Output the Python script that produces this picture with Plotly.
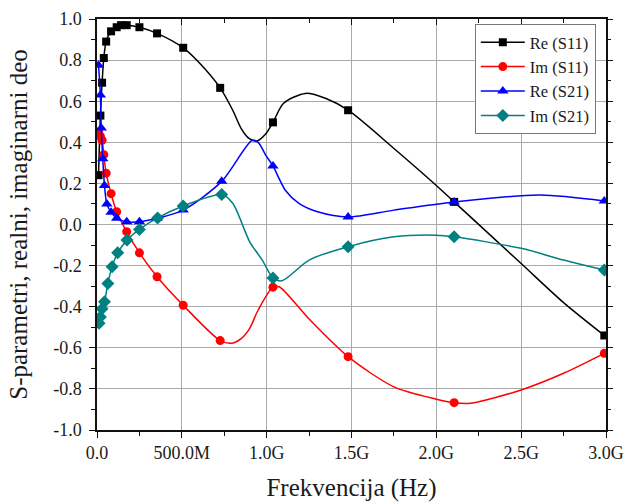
import plotly.graph_objects as go

# ---------------- data (frequency in GHz) ----------------
# Re(S11) – markers
re11_mx = [0.009, 0.02, 0.03, 0.04, 0.054, 0.083, 0.116, 0.142, 0.175, 0.25, 0.354, 0.508, 0.726, 1.037, 1.48, 2.105, 2.99]
re11_my = [0.24, 0.53, 0.69, 0.81, 0.89, 0.94, 0.96, 0.97, 0.97, 0.96, 0.93, 0.86, 0.665, 0.497, 0.556, 0.11, -0.54]
# Re(S11) – curve
re11_cx = [0.009, 0.02, 0.03, 0.04, 0.054, 0.083, 0.116, 0.142, 0.175, 0.25, 0.354, 0.508, 0.6, 0.726, 0.80, 0.85, 0.896, 0.94, 0.994, 1.037, 1.1, 1.229, 1.35, 1.48, 1.75, 2.0, 2.105, 2.5, 2.75, 2.99]
re11_cy = [0.24, 0.53, 0.69, 0.81, 0.89, 0.94, 0.96, 0.97, 0.97, 0.96, 0.93, 0.86, 0.79, 0.665, 0.556, 0.467, 0.419, 0.405, 0.44, 0.497, 0.59, 0.638, 0.613, 0.556, 0.37, 0.19, 0.11, -0.19, -0.38, -0.54]

# Im(S11)
im11_mx = [0.009, 0.02, 0.03, 0.04, 0.054, 0.083, 0.116, 0.175, 0.25, 0.354, 0.508, 0.726, 1.037, 1.48, 2.105, 2.99]
im11_my = [0.45, 0.43, 0.41, 0.34, 0.25, 0.15, 0.062, -0.035, -0.138, -0.254, -0.393, -0.565, -0.305, -0.643, -0.867, -0.627]
im11_cx = [0.009, 0.02, 0.03, 0.04, 0.054, 0.083, 0.116, 0.175, 0.25, 0.354, 0.508, 0.726, 0.788, 0.85, 0.9, 0.95, 1.037, 1.073, 1.25, 1.48, 1.75, 2.0, 2.105, 2.2, 2.5, 2.75, 2.99]
im11_cy = [0.45, 0.43, 0.41, 0.34, 0.25, 0.15, 0.062, -0.035, -0.138, -0.254, -0.393, -0.565, -0.578, -0.555, -0.505, -0.416, -0.305, -0.303, -0.46, -0.643, -0.79, -0.85, -0.867, -0.87, -0.805, -0.724, -0.627]

# Re(S21)
re21_mx = [0.009, 0.02, 0.025, 0.034, 0.044, 0.058, 0.083, 0.116, 0.175, 0.25, 0.354, 0.508, 0.735, 1.037, 1.48, 2.105, 2.99]
re21_my = [0.775, 0.63, 0.47, 0.32, 0.19, 0.10, 0.06, 0.03, 0.013, 0.013, 0.03, 0.07, 0.21, 0.285, 0.037, 0.11, 0.114]
re21_cx = [0.009, 0.02, 0.025, 0.034, 0.044, 0.058, 0.083, 0.116, 0.175, 0.25, 0.354, 0.508, 0.735, 0.915, 0.95, 0.994, 1.037, 1.11, 1.19, 1.3, 1.48, 1.75, 2.105, 2.61, 2.99]
re21_cy = [0.775, 0.63, 0.47, 0.32, 0.19, 0.10, 0.06, 0.03, 0.013, 0.013, 0.03, 0.07, 0.21, 0.41, 0.40, 0.338, 0.285, 0.167, 0.103, 0.062, 0.037, 0.07, 0.11, 0.143, 0.114]

# Im(S21)
im21_mx = [0.012, 0.02, 0.03, 0.044, 0.064, 0.089, 0.122, 0.177, 0.25, 0.357, 0.508, 0.735, 1.037, 1.48, 2.105, 2.99]
im21_my = [-0.48, -0.45, -0.41, -0.376, -0.287, -0.206, -0.138, -0.076, -0.024, 0.032, 0.09, 0.146, -0.26, -0.108, -0.06, -0.222]
im21_cx = [0.012, 0.02, 0.03, 0.044, 0.064, 0.089, 0.122, 0.177, 0.25, 0.357, 0.508, 0.735, 0.8, 0.9, 0.974, 1.037, 1.09, 1.25, 1.48, 1.75, 2.0, 2.105, 2.5, 2.75, 2.99]
im21_cy = [-0.48, -0.45, -0.41, -0.376, -0.287, -0.206, -0.138, -0.076, -0.024, 0.032, 0.09, 0.146, 0.103, -0.084, -0.173, -0.26, -0.274, -0.173, -0.108, -0.06, -0.052, -0.06, -0.116, -0.173, -0.222]

series_names = ["Re (S11)", "Im (S11)", "Re (S21)", "Im (S21)"]
x_tickvals = [0, 0.5, 1.0, 1.5, 2.0, 2.5, 3.0]
x_ticktext = ["0.0", "500.0M", "1.0G", "1.5G", "2.0G", "2.5G", "3.0G"]
y_tickvals = [-1.0, -0.8, -0.6, -0.4, -0.2, 0.0, 0.2, 0.4, 0.6, 0.8, 1.0]
y_ticktext = ["-1.0", "-0.8", "-0.6", "-0.4", "-0.2", "0.0", "0.2", "0.4", "0.6", "0.8", "1.0"]

# ---------------- styling ----------------
colors = ["#000000", "#ff0000", "#0000ff", "#008080"]
symbols = ["square", "circle", "triangle-up", "diamond"]
msizes = [8, 9, 10, 10]
FONT = "Liberation Serif"
TXT = "#1a1a1a"

curves = [(re11_cx, re11_cy), (im11_cx, im11_cy), (re21_cx, re21_cy), (im21_cx, im21_cy)]
marks = [(re11_mx, re11_my), (im11_mx, im11_my), (re21_mx, re21_my), (im21_mx, im21_my)]

fig = go.Figure()
for i in range(4):
    cx, cy = curves[i]
    mx, my = marks[i]
    fig.add_trace(go.Scatter(x=cx, y=cy, mode="lines", line=dict(color=colors[i], width=1.5, shape="spline", smoothing=0.8),
                             showlegend=False, hoverinfo="skip"))
    fig.add_trace(go.Scatter(x=mx, y=my, mode="markers",
                             marker=dict(color=colors[i], symbol=symbols[i], size=msizes[i]),
                             showlegend=False))
for i in range(4):
    fig.add_trace(go.Scatter(x=[None], y=[None], mode="lines+markers", name=series_names[i],
                             line=dict(color=colors[i], width=1.5),
                             marker=dict(color=colors[i], symbol=symbols[i], size=msizes[i])))

# dummy on overlay axes so they render
fig.add_trace(go.Scatter(x=[None], y=[None], xaxis="x2", yaxis="y2", showlegend=False))

W, H = 629, 504
L, R, T, B = 97, 23, 19, 74

tickfont = dict(family=FONT, size=18, color=TXT)

fig.update_layout(
    width=W, height=H,
    margin=dict(l=L, r=R, t=T, b=B, pad=0, autoexpand=False),
    paper_bgcolor="white", plot_bgcolor="white",
    font=dict(family=FONT, size=18, color=TXT),
    showlegend=True,
    legend=dict(x=0.980, y=0.988, xanchor="right", yanchor="top",
                bgcolor="white", bordercolor="#777777", borderwidth=1,
                font=dict(family=FONT, size=16.5, color=TXT),
                itemwidth=44, tracegroupgap=0),
    xaxis=dict(range=[0, 3.0], tickvals=x_tickvals, ticktext=x_ticktext, tickfont=tickfont,
               automargin=False,
               showline=True, linecolor="#111111", linewidth=1.5, mirror=True,
               ticks="outside", ticklen=6, tickwidth=1.2, tickcolor="#111111",
               minor=dict(dtick=0.25, tick0=0, ticks="outside", ticklen=4, tickcolor="#111111", showgrid=False),
               showgrid=True, gridcolor="#aaaaaa", gridwidth=1, zeroline=False,
               ticklabelstandoff=0,
               title=dict(text="Frekvencija (Hz)", font=dict(family=FONT, size=25, color=TXT), standoff=16)),
    yaxis=dict(range=[-1.0, 1.0], tickvals=y_tickvals, ticktext=y_ticktext, tickfont=tickfont,
               automargin=False,
               showline=True, linecolor="#111111", linewidth=1.5, mirror=True,
               ticks="outside", ticklen=6, tickwidth=1.2, tickcolor="#111111",
               minor=dict(dtick=0.1, tick0=0, ticks="outside", ticklen=4, tickcolor="#111111", showgrid=False),
               showgrid=True, gridcolor="#aaaaaa", gridwidth=1, zeroline=False,
               ticklabelstandoff=4,
               title=dict(text="S-parametri, realni, imaginarni deo", font=dict(family=FONT, size=25, color=TXT), standoff=18)),
    xaxis2=dict(range=[0, 3.0], overlaying="x", side="top", tickvals=x_tickvals, showticklabels=False,
                automargin=False,
                ticks="inside", ticklen=6, tickcolor="#111111",
                minor=dict(dtick=0.25, tick0=0, ticks="inside", ticklen=4, tickcolor="#111111"),
                showgrid=False, zeroline=False, showline=False),
    yaxis2=dict(range=[-1.0, 1.0], overlaying="y", side="right", tickvals=y_tickvals, showticklabels=False,
                automargin=False,
                ticks="outside", ticklen=6, tickcolor="#111111",
                minor=dict(dtick=0.1, tick0=0, ticks="outside", ticklen=4, tickcolor="#111111"),
                showgrid=False, zeroline=False, showline=False),
)

fig.write_html("out.html")
